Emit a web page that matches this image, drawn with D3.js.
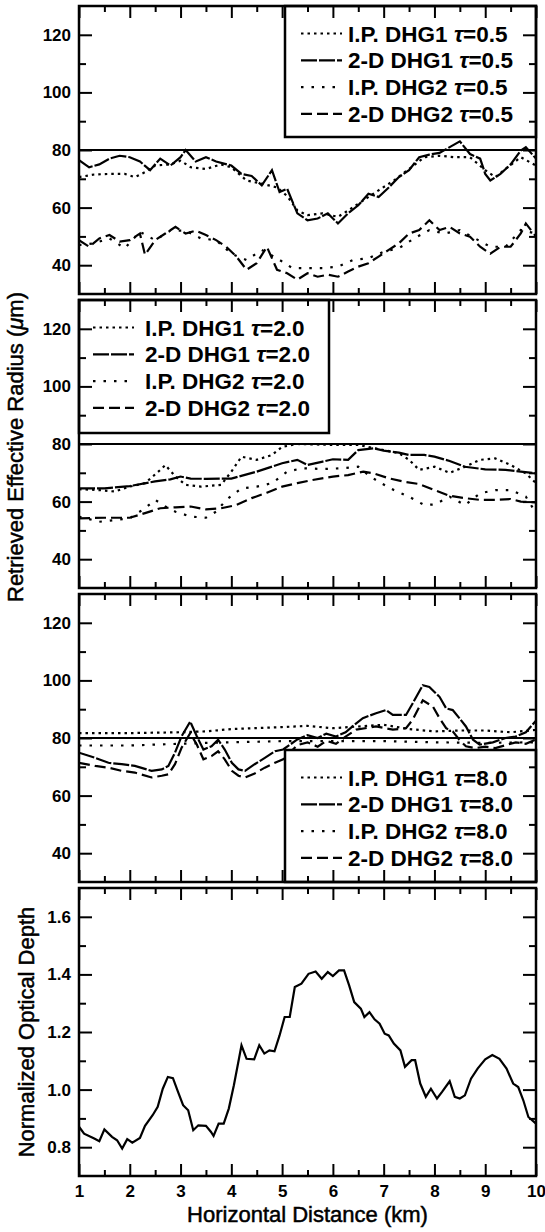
<!DOCTYPE html>
<html>
<head>
<meta charset="utf-8">
<script src="https://cdn.jsdelivr.net/npm/d3@7"></script>
<style>
body { margin: 0; background: #fff; }
svg text { font-family: "Liberation Sans", Arial, sans-serif; fill: #000; }
</style>
</head>
<body>
<svg width="545" height="1232"></svg>
<script>
// tick values and labels
var xTicks = [1, 2, 3, 4, 5, 6, 7, 8, 9, 10];
var xMinorTicks = [1.5, 2.5, 3.5, 4.5, 5.5, 6.5, 7.5, 8.5, 9.5];
var radiusTicks = [40, 60, 80, 100, 120];
var radiusMinorTicks = [50, 70, 90, 110];
var depthTicks = [0.8, 1.0, 1.2, 1.4, 1.6];
var depthMinorTicks = [0.9, 1.1, 1.3, 1.5];
var seriesNames = ["I.P. DHG1", "2-D DHG1", "I.P. DHG2", "2-D DHG2"];
var tauLabels = ["0.5", "2.0", "8.0"];

// tau = 0.5, [km, micron]
var tau05_ipDhg1 = [[1.0,70.6],[1.3,71.5],[1.6,71.7],[1.9,71.7],[2.1,70.6],[2.3,72.3],[2.5,74.6],[2.8,75],[3.0,76.3],[3.2,74],[3.5,73.4],[3.8,75],[4.0,74],[4.3,69.4],[4.6,68.3],[4.9,67],[5.1,64],[5.3,59],[5.5,57.4],[5.8,58],[6.1,56.8],[6.3,59],[6.6,62.5],[6.9,66],[7.2,69.4],[7.5,73.4],[7.8,77.5],[8.1,78],[8.4,77.5],[8.7,77.5],[9.0,73],[9.2,70.6],[9.4,73.4],[9.7,77.5],[10.0,74.6]];
var tau05_2dDhg1 = [[1.0,76.5],[1.2,74],[1.4,75],[1.6,77],[1.8,78],[2.0,77.5],[2.2,76],[2.4,73],[2.6,77],[2.8,74.6],[3.0,77.5],[3.1,80],[3.3,76],[3.5,77.5],[3.7,76],[4.0,74.6],[4.2,71.7],[4.4,71],[4.6,67.7],[4.8,73],[4.95,65.4],[5.1,66.5],[5.3,58],[5.5,55.6],[5.7,56.2],[5.9,58],[6.1,54.5],[6.3,58],[6.5,60.8],[6.7,64.8],[6.9,63.7],[7.1,67],[7.3,70.6],[7.5,73],[7.7,77.5],[7.9,78.4],[8.1,79],[8.3,81],[8.5,83],[8.7,78.6],[8.9,77],[9.0,71.7],[9.1,69.4],[9.3,71.7],[9.5,75],[9.7,79.8],[9.8,81],[10.0,77]];
var tau05_ipDhg2 = [[1.0,47],[1.3,47.6],[1.6,49.3],[1.9,45.9],[2.2,51.6],[2.5,48.7],[2.8,52],[3.1,52],[3.4,49.3],[3.7,48.7],[4.0,44],[4.3,41.8],[4.6,45.3],[4.9,42.4],[5.2,39],[5.5,39],[5.8,39],[6.1,39.5],[6.4,41.8],[6.7,42.4],[7.0,44.7],[7.3,45.9],[7.6,49.3],[7.9,52.2],[8.2,51],[8.5,52.2],[8.8,49.3],[9.1,46.4],[9.4,46.4],[9.7,52.2],[10.0,51]];
var tau05_2dDhg2 = [[1.0,48.7],[1.2,46.4],[1.4,49.3],[1.6,50.5],[1.8,48.2],[2.0,48.7],[2.2,51],[2.3,43.6],[2.5,48.7],[2.7,51],[2.9,53.3],[3.1,51],[3.3,52],[3.5,50.5],[3.7,48.7],[3.9,46.4],[4.1,43],[4.3,38.4],[4.5,40.7],[4.7,46.4],[4.9,38.4],[5.1,37.2],[5.3,35],[5.5,37.2],[5.7,36],[5.9,36.7],[6.1,36],[6.3,37.8],[6.5,39.5],[6.7,40.7],[6.9,43],[7.1,45.3],[7.3,47.6],[7.5,51],[7.7,52.2],[7.9,55.6],[8.1,52.2],[8.3,53.3],[8.5,51],[8.7,49.9],[8.9,46.4],[9.1,44],[9.3,46.4],[9.5,46.4],[9.7,51],[9.8,54.5],[10.0,49.9]];

// tau = 2.0
var tau20_ipDhg1 = [[1.0,64.3],[1.4,64],[1.7,63.5],[2.0,65.2],[2.3,66.4],[2.6,71],[2.7,72.7],[2.9,68.7],[3.1,65.8],[3.4,65.2],[3.8,65.8],[4.0,70.4],[4.2,75.6],[4.5,74.5],[4.8,76.2],[5.0,79],[5.3,80],[6.0,79.7],[6.5,79.7],[7.0,77.9],[7.3,76.8],[7.5,74.5],[7.7,71],[8.0,72.1],[8.3,70],[8.6,72.1],[8.9,74.5],[9.2,75],[9.5,72.7],[9.8,69.8],[10.0,66.4]];
var tau20_2dDhg1 = [[1.0,64.6],[1.5,64.6],[2.0,65.4],[2.5,67],[2.8,67.7],[3.0,68.7],[3.2,68],[3.5,67.9],[4.0,68],[4.5,70.4],[5.0,73.3],[5.3,74.5],[5.5,72.7],[5.8,73.9],[6.0,74.7],[6.3,74.5],[6.5,77.9],[6.8,78.5],[7.0,77.7],[7.3,77],[7.5,76.2],[7.8,76.2],[8.0,75.6],[8.3,74.1],[8.6,72.1],[9.0,71.2],[9.4,71],[9.7,70.4],[10.0,69.8]];
var tau20_ipDhg2 = [[1.0,54.8],[1.4,53],[1.7,53.6],[2.0,54.2],[2.3,57.7],[2.5,60.6],[2.7,58.3],[2.9,56.5],[3.2,54.8],[3.5,54.4],[3.7,56.5],[3.9,60.6],[4.2,64.6],[4.5,65.2],[4.8,66.4],[5.1,70.4],[5.4,71.6],[5.8,71.3],[6.2,71.6],[6.5,72.1],[6.7,69.2],[6.9,66.9],[7.2,64],[7.5,61.7],[7.8,58.8],[8.0,59],[8.3,61.7],[8.6,58.8],[8.9,62.9],[9.2,64],[9.5,64],[9.8,61.7],[10.0,56]];
var tau20_2dDhg2 = [[1.0,54.2],[1.5,54.4],[2.0,54.4],[2.3,56],[2.6,57.7],[2.9,58],[3.2,58.3],[3.5,57.3],[3.8,57.7],[4.1,58.8],[4.4,61.2],[4.7,63.1],[5.0,65.2],[5.3,66.4],[5.6,67.5],[6.0,68.7],[6.3,69.2],[6.6,70.4],[6.8,69.8],[7.1,68.1],[7.4,66.9],[7.7,66.1],[8.0,64],[8.3,62],[8.6,61.2],[8.9,60.6],[9.2,60.6],[9.5,60.9],[9.7,60],[10.0,59.7]];

// tau = 8.0
var tau80_ipDhg1 = [[1.0,81.7],[2.0,81.7],[3.0,82],[3.5,82.3],[4.0,83.1],[5.0,83.8],[5.5,84.2],[6.0,83.4],[6.5,84],[7.0,84.6],[7.5,83.1],[8.0,82.3],[8.5,82.6],[9.0,82.6],[9.5,82],[10.0,82.8]];
var tau80_2dDhg1 = [[1.0,74.9],[1.32,73.1],[1.58,71.4],[1.84,70.9],[2.1,70.3],[2.43,68.6],[2.63,69.1],[2.76,70.3],[2.89,74.9],[3.02,80.6],[3.19,85.7],[3.32,80.6],[3.45,76],[3.61,77.1],[3.74,79.4],[3.87,76],[4.01,71.4],[4.14,69.1],[4.27,68.6],[4.46,70.9],[4.66,73.1],[4.86,75.4],[5.02,76],[5.3,79.5],[5.5,81],[5.7,80],[5.87,81.5],[6.06,80.5],[6.25,82],[6.46,85.1],[6.59,86.9],[6.85,88.6],[7.05,89.7],[7.18,88],[7.44,88],[7.57,92],[7.77,98.3],[7.9,97.7],[8.1,94.3],[8.23,90.3],[8.36,89.7],[8.49,86.9],[8.62,84],[8.76,79.4],[8.89,77.7],[9.15,78.5],[9.4,80],[9.6,80.5],[9.8,82],[10.0,86]];
var tau80_ipDhg2 = [[1.0,77.4],[2.0,77.4],[3.0,78],[3.5,78.3],[4.0,78.5],[5.0,78.9],[6.0,78.9],[7.0,78.9],[8.0,78.5],[9.0,78.3],[10.0,78.5]];
var tau80_2dDhg2 = [[1.0,71.4],[1.32,70.3],[1.58,69.7],[1.84,68.6],[2.1,68],[2.43,66.3],[2.63,66.9],[2.76,67.4],[2.89,70.9],[3.02,76.6],[3.19,81.7],[3.32,77.7],[3.45,72.6],[3.61,73.7],[3.74,75.4],[3.87,72.6],[4.01,68.6],[4.14,66.9],[4.27,66.3],[4.46,67.7],[4.66,69.7],[4.86,71.4],[5.02,72.6],[5.3,77.5],[5.5,78.5],[5.7,77],[5.87,79],[6.06,78],[6.25,80.5],[6.46,82.9],[6.85,84],[7.18,82.9],[7.44,83.4],[7.57,86.3],[7.77,93.1],[7.97,90.9],[8.1,86.9],[8.23,83.4],[8.36,82.3],[8.49,79.4],[8.62,77.1],[8.8,76.5],[9.0,77],[9.2,76.5],[9.4,77.5],[9.6,78.5],[9.8,78],[10.0,79.5]];

// normalized optical depth
var opticalDepth = [[1.0,0.871],[1.1,0.847],[1.3,0.83],[1.4,0.821],[1.5,0.862],[1.65,0.836],[1.75,0.824],[1.85,0.795],[1.95,0.828],[2.05,0.816],[2.2,0.832],[2.3,0.874],[2.45,0.911],[2.55,0.94],[2.65,1.003],[2.75,1.044],[2.85,1.04],[2.95,0.992],[3.05,0.946],[3.15,0.928],[3.25,0.859],[3.35,0.876],[3.5,0.874],[3.6,0.853],[3.65,0.839],[3.75,0.882],[3.85,0.882],[3.95,0.934],[4.05,1.015],[4.15,1.107],[4.2,1.154],[4.3,1.107],[4.45,1.105],[4.55,1.154],[4.65,1.125],[4.75,1.136],[4.85,1.133],[4.95,1.188],[5.05,1.252],[5.15,1.252],[5.25,1.356],[5.38,1.368],[5.52,1.402],[5.66,1.41],[5.78,1.385],[5.9,1.408],[6.0,1.394],[6.12,1.414],[6.22,1.414],[6.32,1.362],[6.42,1.304],[6.55,1.281],[6.62,1.252],[6.72,1.269],[6.82,1.244],[6.92,1.229],[7.02,1.194],[7.1,1.188],[7.2,1.16],[7.33,1.136],[7.42,1.079],[7.55,1.102],[7.62,1.102],[7.72,1.021],[7.83,0.975],[7.93,1.003],[8.05,0.969],[8.15,0.992],[8.3,1.029],[8.4,0.975],[8.5,0.969],[8.6,0.98],[8.72,1.038],[8.85,1.073],[9.0,1.105],[9.14,1.12],[9.28,1.107],[9.42,1.073],[9.55,1.021],[9.65,1.009],[9.75,0.963],[9.85,0.905],[10.0,0.882]];

var L = 79, R = 536, H = 288;
var dashes = ["2.5,4", "16,2", "2.5,8", "11,5"];

var svg = d3.select("svg");
var x = d3.scaleLinear().domain([1, 10]).range([L, R]);

var addAxes = function(g, y, top, majors, minors, fmt, showX)
{
    g.append("g").attr("transform", "translate(" + L + ",0)")
        .call(d3.axisLeft(y).tickValues(majors).tickSize(-13).tickPadding(8).tickFormat(fmt));
    g.append("g").attr("transform", "translate(" + L + ",0)")
        .call(d3.axisLeft(y).tickValues(minors).tickSize(-7).tickFormat(""));
    g.append("g").attr("transform", "translate(" + R + ",0)")
        .call(d3.axisRight(y).tickValues(majors).tickSize(-13).tickFormat(""));
    g.append("g").attr("transform", "translate(" + R + ",0)")
        .call(d3.axisRight(y).tickValues(minors).tickSize(-7).tickFormat(""));
    g.append("g").attr("transform", "translate(0," + top + ")")
        .call(d3.axisTop(x).tickValues(xTicks).tickSize(-12).tickFormat(""));
    g.append("g").attr("transform", "translate(0," + top + ")")
        .call(d3.axisTop(x).tickValues(xMinorTicks).tickSize(-6).tickFormat(""));
    g.append("g").attr("transform", "translate(0," + (top + H) + ")")
        .call(d3.axisBottom(x).tickValues(xTicks).tickSize(-12).tickPadding(9)
            .tickFormat(showX ? d3.format("d") : ""));
    g.append("g").attr("transform", "translate(0," + (top + H) + ")")
        .call(d3.axisBottom(x).tickValues(xMinorTicks).tickSize(-6).tickFormat(""));

    g.selectAll(".domain").remove();
    g.selectAll(".tick line").attr("stroke", "#000").attr("stroke-width", 2);
    g.selectAll(".tick text")
        .style("font-family", "'Liberation Sans', Arial, sans-serif")
        .style("font-size", "17px")
        .style("font-weight", "bold")
        .attr("fill", "#000");

    g.append("rect")
        .attr("x", L).attr("y", top)
        .attr("width", R - L).attr("height", H)
        .attr("fill", "none").attr("stroke", "#000").attr("stroke-width", 2.5);
}

var drawLegend = function(g, box, tau)
{
    g.append("rect")
        .attr("x", box.x0).attr("y", box.y0)
        .attr("width", box.x1 - box.x0).attr("height", box.y1 - box.y0)
        .attr("fill", "#fff").attr("stroke", "#000").attr("stroke-width", 2.5);

    seriesNames.forEach(function(name, i)
    {
        var ry = box.y0 + 27.5 + i * 26.8;
        g.append("line")
            .attr("x1", box.lineX).attr("x2", box.lineX + 41)
            .attr("y1", ry).attr("y2", ry)
            .attr("stroke", "#000").attr("stroke-width", 2.2)
            .attr("stroke-dasharray", dashes[i]);
        var t = g.append("text")
            .attr("x", box.textX).attr("y", ry + 8)
            .style("font-size", "22.5px").style("font-weight", "bold");
        t.append("tspan").text(name + " ");
        t.append("tspan").style("font-style", "italic").text("\u03c4");
        t.append("tspan").text("=" + tau);
    });
}

var radiusPanels = [
    {top: 6, series: [tau05_ipDhg1, tau05_2dDhg1, tau05_ipDhg2, tau05_2dDhg2], tau: tauLabels[0],
     legend: {x0: 285, x1: R, y0: 6, y1: 137, lineX: 301, textX: 348}},
    {top: 300, series: [tau20_ipDhg1, tau20_2dDhg1, tau20_ipDhg2, tau20_2dDhg2], tau: tauLabels[1],
     legend: {x0: L, x1: 329, y0: 300, y1: 433, lineX: 93, textX: 145}},
    {top: 594, series: [tau80_ipDhg1, tau80_2dDhg1, tau80_ipDhg2, tau80_2dDhg2], tau: tauLabels[2],
     legend: {x0: 285, x1: R, y0: 750, y1: 594 + H, lineX: 301, textX: 348}}
];

radiusPanels.forEach(function(p, k)
{
    var y = d3.scaleLinear().domain([30, 130]).range([p.top + H, p.top]);
    var g = svg.append("g");

    g.append("clipPath").attr("id", "clip" + k)
        .append("rect").attr("x", L).attr("y", p.top).attr("width", R - L).attr("height", H);

    var line = d3.line()
        .x(function(d) { return x(d[0]); })
        .y(function(d) { return y(d[1]); });

    var plot = g.append("g").attr("clip-path", "url(#clip" + k + ")");

    // reference radius 80 micron
    plot.append("line")
        .attr("x1", L).attr("x2", R)
        .attr("y1", y(80)).attr("y2", y(80))
        .attr("stroke", "#000").attr("stroke-width", 2.2);

    p.series.forEach(function(s, i)
    {
        plot.append("path")
            .datum(s)
            .attr("d", line)
            .attr("fill", "none")
            .attr("stroke", "#000")
            .attr("stroke-width", 2.2)
            .attr("stroke-dasharray", dashes[i]);
    });

    drawLegend(g, p.legend, p.tau);
    addAxes(g, y, p.top, radiusTicks, radiusMinorTicks, d3.format("d"), false);
});

// bottom panel: optical depth
var depthTop = 888;
var yDepth = d3.scaleLinear().domain([0.7, 1.7]).range([depthTop + H, depthTop]);
var gDepth = svg.append("g");
gDepth.append("path")
    .datum(opticalDepth)
    .attr("d", d3.line()
        .x(function(d) { return x(d[0]); })
        .y(function(d) { return yDepth(d[1]); }))
    .attr("fill", "none")
    .attr("stroke", "#000")
    .attr("stroke-width", 2.2);
addAxes(gDepth, yDepth, depthTop, depthTicks, depthMinorTicks, d3.format(".1f"), true);

// axis titles, slightly heavier than regular
var radiusTitle = svg.append("text")
    .attr("transform", "translate(23,447) rotate(-90)")
    .attr("text-anchor", "middle")
    .attr("stroke", "#000").attr("stroke-width", 0.5)
    .style("font-size", "22px");
radiusTitle.append("tspan").text("Retrieved Effective Radius (");
radiusTitle.append("tspan").style("font-style", "italic").text("\u03bc");
radiusTitle.append("tspan").text("m)");

svg.append("text")
    .attr("transform", "translate(34,1032) rotate(-90)")
    .attr("text-anchor", "middle")
    .attr("stroke", "#000").attr("stroke-width", 0.5)
    .style("font-size", "22px")
    .text("Normalized Optical Depth");

svg.append("text")
    .attr("x", (L + R) / 2).attr("y", 1222)
    .attr("text-anchor", "middle")
    .attr("stroke", "#000").attr("stroke-width", 0.5)
    .style("font-size", "22px")
    .text("Horizontal Distance (km)");
</script>
</body>
</html>
